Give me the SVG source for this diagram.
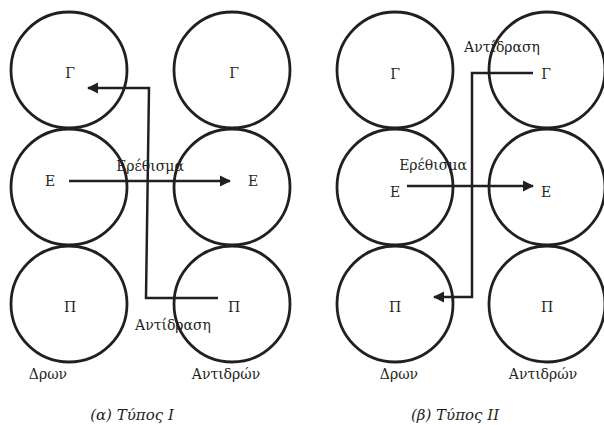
<svg xmlns="http://www.w3.org/2000/svg" width="604" height="425" viewBox="0 0 604 425">
<style>
.c{fill:none;stroke:#231f20;stroke-width:2.8}
.l{fill:none;stroke:#231f20;stroke-width:2.5}
text{font-family:"DejaVu Serif","Liberation Serif",serif;font-size:14px;fill:#231f20;text-anchor:middle}
.cap{font-family:"DejaVu Serif","Liberation Serif",serif;font-style:italic;font-size:15px}
</style>
<defs>
<marker id="ah" viewBox="0 0 10 10" refX="9" refY="5" markerWidth="4.5" markerHeight="4.5" orient="auto" markerUnits="strokeWidth">
<path d="M0,0 L10,5 L0,10 z" fill="#231f20"/>
</marker>
</defs>
<rect width="604" height="425" fill="#fff"/>
<g id="a-G1"><circle class="c" cx="69" cy="70" r="58"/><text x="70" y="78">Γ</text></g>
<g id="a-E1"><circle class="c" cx="69" cy="187" r="58"/><text x="50" y="186">Ε</text></g>
<g id="a-P1"><circle class="c" cx="69" cy="304" r="58"/><text x="70" y="312">Π</text></g>
<g id="a-G2"><circle class="c" cx="232" cy="70" r="58"/><text x="234" y="78">Γ</text></g>
<g id="a-E2"><circle class="c" cx="232" cy="187" r="58"/><text x="253" y="186">Ε</text></g>
<g id="a-P2"><circle class="c" cx="232" cy="304" r="58"/><text x="234" y="312">Π</text></g>
<g id="b-G1"><circle class="c" cx="395" cy="70" r="58"/><text x="395" y="79">Γ</text></g>
<g id="b-E1"><circle class="c" cx="395" cy="187" r="58"/><text x="395" y="197">Ε</text></g>
<g id="b-P1"><circle class="c" cx="395" cy="304" r="58"/><text x="395" y="312">Π</text></g>
<g id="b-G2"><circle class="c" cx="547" cy="70" r="58"/><text x="546" y="79">Γ</text></g>
<g id="b-E2"><circle class="c" cx="547" cy="187" r="58"/><text x="546" y="197">Ε</text></g>
<g id="b-P2"><circle class="c" cx="547" cy="304" r="58"/><text x="547" y="312">Π</text></g>
<g id="connectors">
<path class="l" d="M69,181 H230" marker-end="url(#ah)"/>
<path class="l" d="M218,298 H146 L149,88 H88" marker-end="url(#ah)"/>
<path class="l" d="M407,186 H533" marker-end="url(#ah)"/>
<path class="l" d="M533,73 H472 V297 H434" marker-end="url(#ah)"/>
</g>
<g id="labels">
<text x="150" y="171">Ερέθισμα</text>
<text x="173" y="330">Αντίδραση</text>
<text x="48" y="379">Δρων</text>
<text x="226" y="379">Αντιδρών</text>
<text x="132" y="420" class="cap">(α) Τύπος Ι</text>
<text x="433" y="170">Ερέθισμα</text>
<text x="502" y="52">Αντίδραση</text>
<text x="399" y="379">Δρων</text>
<text x="543" y="379">Αντιδρών</text>
<text x="455" y="420" class="cap">(β) Τύπος ΙΙ</text>
</g>
</svg>
